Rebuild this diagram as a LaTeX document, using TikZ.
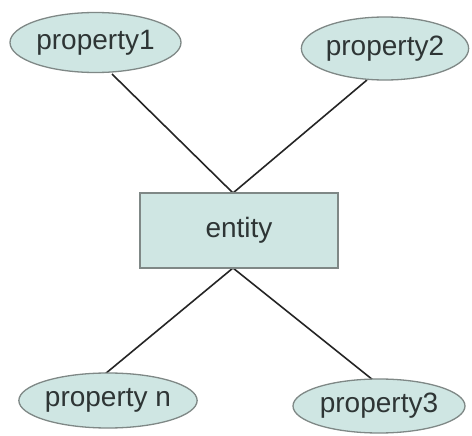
\documentclass[tikz,border=0pt]{standalone}
\usepackage{fontspec}
\setmainfont{Liberation Sans}
\usetikzlibrary{shapes.geometric}
\definecolor{boxfill}{HTML}{CFE6E3}
\definecolor{boxline}{HTML}{7F8886}
\definecolor{linkcol}{HTML}{252525}
\definecolor{txtcol}{HTML}{2E3535}
\tikzset{
  attr/.style={ellipse, draw=boxline, fill=boxfill, line width=1.3pt,
    inner sep=0pt, text=txtcol, font=\fontsize{28}{32}\selectfont},
  ent/.style={rectangle, draw=boxline, fill=boxfill, line width=1.3pt,
    inner sep=0pt, text=txtcol, font=\fontsize{28}{32}\selectfont},
  link/.style={draw=linkcol, line width=1.6pt}
}
\begin{document}
\begin{tikzpicture}[x=1pt,y=-1pt]
\useasboundingbox[fill=white] (0,0) rectangle (472,436);
% connectors first, shapes drawn on top
\coordinate (etop) at (233,193);
\coordinate (ebot) at (233,268);
\coordinate (p1c) at (112,74);
\coordinate (p2c) at (367,80);
\coordinate (pnc) at (105,374);
\coordinate (p3c) at (373,380);
\draw[link] (p1c) -- (etop);
\draw[link] (p2c) -- (etop);
\draw[link] (pnc) -- (ebot);
\draw[link] (p3c) -- (ebot);
% entity
\node[ent, minimum width=198pt, minimum height=75pt] (entity) at (239,230.5) {entity};
% properties
\node[attr, minimum width=171pt, minimum height=60pt] (p1) at (95.5,42.5) {property1};
\node[attr, minimum width=166pt, minimum height=63pt] (p2) at (385,48.5) {property2};
\node[attr, minimum width=170pt, minimum height=55pt] (pn) at (108,400.5) {property n};
\node[attr, minimum width=172pt, minimum height=54pt] (p3) at (379,406) {property3};
\end{tikzpicture}
\end{document}
